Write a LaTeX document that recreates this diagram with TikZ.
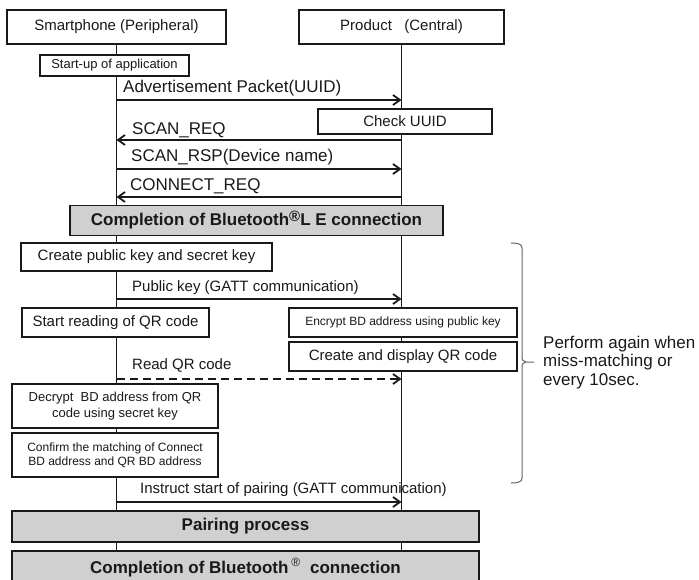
\documentclass[tikz,border=0pt]{standalone}
\usepackage{fontspec}
\setmainfont{Liberation Sans}
\usetikzlibrary{arrows.meta}
\definecolor{boxgray}{RGB}{208,208,208}
\definecolor{ink}{RGB}{25,25,25}
\definecolor{bracegray}{RGB}{100,100,100}
\tikzset{
  box/.style={draw=ink, line width=1.9pt, fill=white, inner sep=0pt, text=ink, align=center},
  graybox/.style={box, fill=boxgray},
  life/.style={draw=ink, line width=1.1pt},
  msg/.style={draw=ink, line width=1.6pt, -{Straight Barb[length=7pt,width=10pt,line width=1.8pt]}},
  dmsg/.style={msg, dash pattern=on 8pt off 5pt},
  lbl/.style={anchor=base west, inner sep=0pt, text=ink},
  fA/.style={font=\fontsize{15}{18}\selectfont},
  fB/.style={font=\fontsize{17}{20}\selectfont},
  fC/.style={font=\fontsize{13}{15.5}\selectfont},
  fD/.style={font=\fontsize{12}{14}\selectfont},
  fE/.style={font=\bfseries\fontsize{17}{20}\selectfont},
}
\begin{document}
\begin{tikzpicture}[x=1pt,y=-1pt]
\useasboundingbox (0,0) rectangle (699,580);
\clip (0,0) rectangle (699,580);
% participants
\node[box, fA, minimum width=219pt, minimum height=34pt] (sp) at (116.5,27) {Smartphone (Peripheral)};
\node[box, fA, minimum width=205pt, minimum height=34pt] (pr) at (401.5,27) {Product\ \ \ (Central)};
\node[graybox, fE, minimum width=467pt, minimum height=33pt] (bt) at (245.5,567.5) {Completion of Bluetooth\,\textsuperscript{\fontsize{12}{12}\selectfont\mdseries ®}\ \ connection};
% lifelines
\draw[life] (sp.south) -- (sp.south |- bt.north);
\draw[life] (pr.south) -- (pr.south |- bt.north);
% boxes
\node[box, fC, minimum width=149pt, minimum height=21pt] (start) at (114.5,65.5) {Start-up of application};
\node[box, fA, minimum width=174pt, minimum height=25pt] (check) at (405,121.5) {Check UUID};
\node[graybox, fE, minimum width=373pt, minimum height=30pt] (le) at (256.5,220.5) {Completion of Bluetooth\raisebox{4pt}{\fontsize{15}{15}\selectfont ®}L E connection};
\node[box, fA, minimum width=251pt, minimum height=28pt] (keys) at (146.5,257) {Create public key and secret key};
\node[box, fA, minimum width=187pt, minimum height=29pt] (qr) at (115.5,322.5) {Start reading of QR code};
\node[box, fD, minimum width=228pt, minimum height=29pt] (enc) at (403,322.5) {Encrypt BD address using public key};
\node[box, fA, minimum width=228pt, minimum height=29pt] (disp) at (403,356.5) {Create and display QR code};
\node[box, fC, minimum width=206pt, minimum height=44pt] (dec) at (115,406) {Decrypt\ \ BD address from QR\\code using secret key};
\node[box, fD, minimum width=206pt, minimum height=44pt] (conf) at (115,455) {Confirm the matching of Connect\\BD address and QR BD address};
\node[graybox, fE, minimum width=467pt, minimum height=31pt] (pair) at (245.5,526.5) {Pairing process};
% messages
\draw[msg] (sp.south |- 0,100) -- (pr.south |- 0,100);
\node[lbl, fB] (m1) at (123,93) {Advertisement Packet(UUID)};
\draw[msg] (pr.south |- 0,140) -- (sp.south |- 0,140);
\node[lbl, fB] (m2) at (132,135) {SCAN\_REQ};
\draw[msg] (sp.south |- 0,169) -- (pr.south |- 0,169);
\node[lbl, fB] (m3) at (131,162) {SCAN\_RSP(Device name)};
\draw[msg] (pr.south |- 0,197) -- (sp.south |- 0,197);
\node[lbl, fB] (m4) at (130,191) {CONNECT\_REQ};
\draw[msg] (sp.south |- 0,299) -- (pr.south |- 0,299);
\node[lbl, fA] (m5) at (132,291) {Public key (GATT communication)};
\draw[dmsg] (sp.south |- 0,379) -- (pr.south |- 0,379);
\node[lbl, fA] (m6) at (132,369) {Read QR code};
\draw[msg] (sp.south |- 0,502) -- (pr.south |- 0,502);
\node[lbl, fA] (m7) at (140,493) {Instruct start of pairing (GATT communication)};
% brace
\draw[bracegray, line width=1pt] (511,243) .. controls (518,243) and (522,244) .. (522,248) -- (522,356) .. controls (522,360) and (523,362) .. (526,362) -- (534,362);
\draw[bracegray, line width=1pt] (526,362) .. controls (523,362) and (522,364) .. (522,368) -- (522,478) .. controls (522,482) and (518,483) .. (511,483);
\node[lbl, align=left, font=\fontsize{17}{18.5}\selectfont] (note) at (543,385) {Perform again when\\miss-matching or\\every 10sec.};
\end{tikzpicture}
\end{document}
